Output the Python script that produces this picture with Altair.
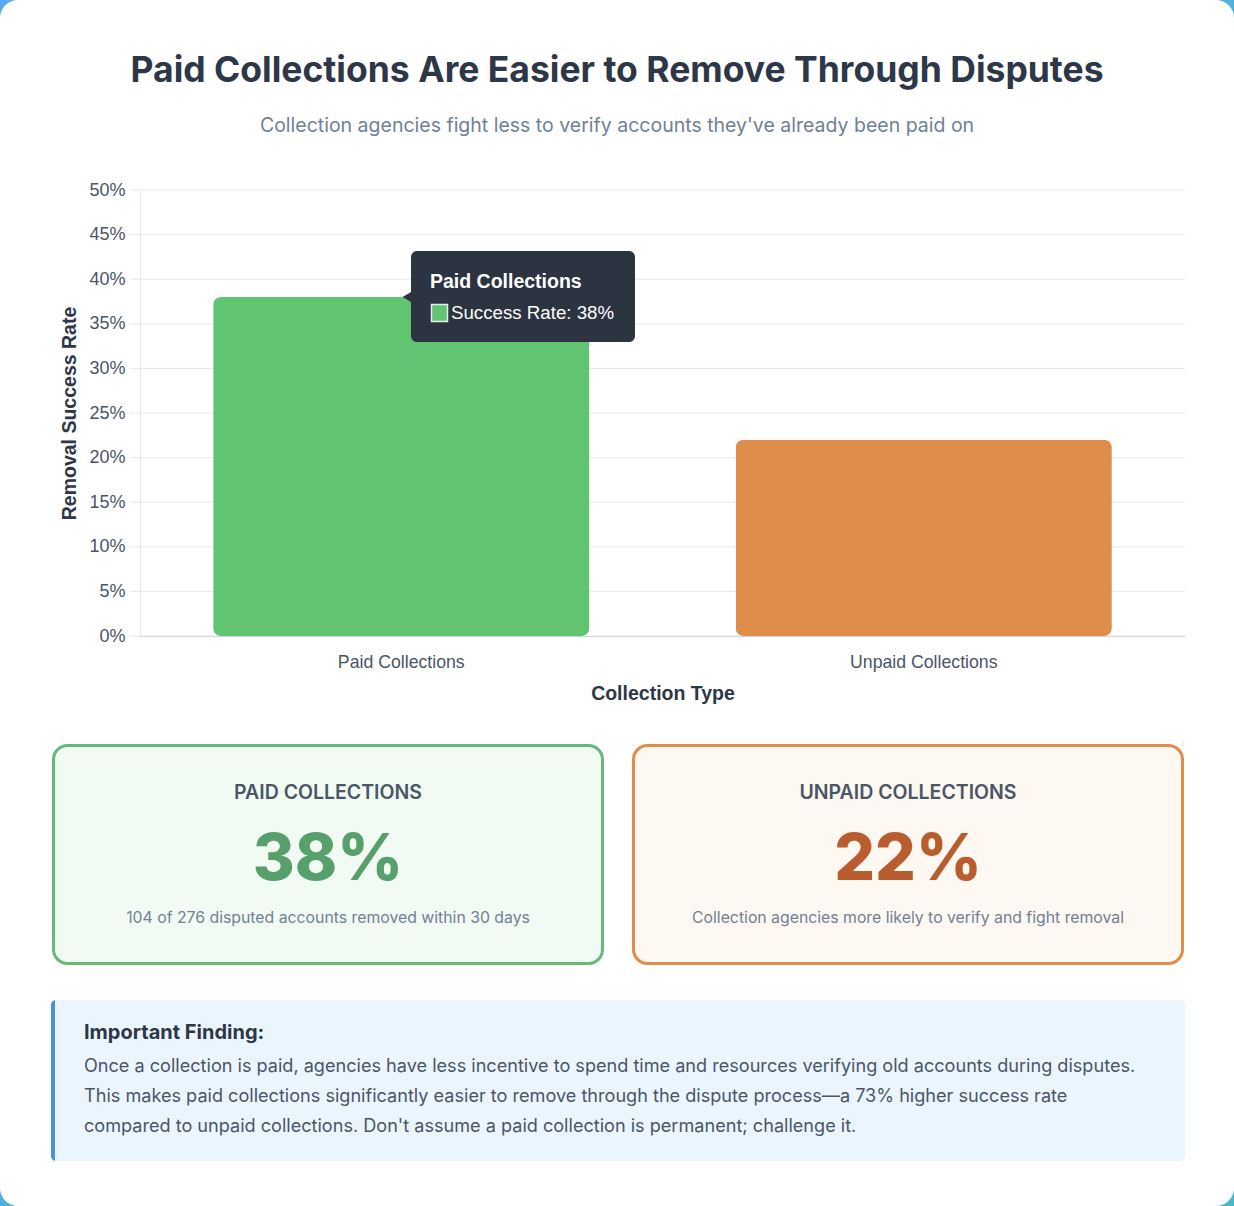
import altair as alt
import pandas as pd

# ---- data -----------------------------------------------------------------
categories = ["Paid Collections", "Unpaid Collections"]
success_rates = [0.38, 0.22]
bar_colors = ["#60c471", "#de8e4a"]
y_ticks = [0.0, 0.05, 0.10, 0.15, 0.20, 0.25, 0.30, 0.35, 0.40, 0.45, 0.50]

title_text = "Paid Collections Are Easier to Remove Through Disputes"
subtitle_text = "Collection agencies fight less to verify accounts they've already been paid on"

card_titles = ["PAID COLLECTIONS", "UNPAID COLLECTIONS"]
card_notes = [
    "104 of 276 disputed accounts removed within 30 days",
    "Collection agencies more likely to verify and fight removal",
]
card_value_colors = ["#579f6b", "#b95d2f"]
card_border_colors = ["#68b77b", "#e08c4a"]
card_fill_colors = ["#f1fbf3", "#fdf8f1"]

finding_heading = "Important Finding:"
finding_lines = [
    "Once a collection is paid, agencies have less incentive to spend time and resources verifying old accounts during disputes.",
    "This makes paid collections significantly easier to remove through the dispute process\u2014a 73% higher success rate",
    "compared to unpaid collections. Don't assume a paid collection is permanent; challenge it.",
]

# ---- layout ---------------------------------------------------------------
W, H = 1234, 1206
PLOT_L, PLOT_R, PLOT_T, PLOT_B = 140, 1185, 190, 636
UI_FONT = "Inter"
CHART_FONT = "Liberation Sans"

bars = pd.DataFrame({"category": categories, "rate": success_rates})
ticks = pd.DataFrame({"rate": y_ticks})
one = pd.DataFrame({"k": [0]})

x_scale = alt.Scale(domain=categories, range=[PLOT_L, PLOT_R],
                    paddingInner=0.28, paddingOuter=0.14)
y_scale = alt.Scale(domain=[0, 0.5], range=[PLOT_B, PLOT_T])

y_axis = alt.Axis(orient="left", offset=-PLOT_L, values=y_ticks,
                  format=".0%", ticks=False, grid=False,
                  domainColor="#e2e6ee", labelFont=CHART_FONT,
                  labelFontSize=18, labelColor="#4a5568",
                  labelPadding=15, title="Removal Success Rate",
                  titleFont=CHART_FONT, titleFontSize=19.5,
                  titleFontWeight="bold", titleColor="#2d3748",
                  titlePadding=9, zindex=1)
x_axis = alt.Axis(orient="bottom", offset=PLOT_B - H, ticks=False,
                  domainColor="#cfd6e2", labelFont=CHART_FONT,
                  labelFontSize=17.7, labelColor="#4a5568",
                  labelPadding=17, labelAngle=0,
                  title="Collection Type", titleFont=CHART_FONT,
                  titleFontSize=19.5, titleFontWeight="bold",
                  titleColor="#2d3748", titlePadding=14, zindex=1)


def text_at(text, x, y, **kw):
    return alt.Chart(one).mark_text(text=text, baseline="alphabetic", **kw).encode(
        x=alt.value(x), y=alt.value(y))


def box(x, x2, y, y2, **kw):
    return alt.Chart(one).mark_rect(**kw).encode(
        x=alt.value(x), x2=alt.value(x2), y=alt.value(y), y2=alt.value(y2))


layers = []

# page background and white container
layers.append(box(0, W, 0, H, fill=alt.LinearGradient(
    gradient="linear", x1=0, y1=0, x2=1, y2=1,
    stops=[alt.GradientStop(color="#5aa8f0", offset=0),
           alt.GradientStop(color="#45b8c6", offset=1)])))
layers.append(box(0, W, 0, H, fill="white", cornerRadius=18))

# headline
layers.append(text_at(title_text, W / 2, 82, font=UI_FONT, fontSize=35.5,
                      fontWeight="bold", color="#2d3748", align="center"))
layers.append(text_at(subtitle_text, W / 2, 132, font=UI_FONT, fontSize=19.5,
                      color="#718096", align="center"))

# gridlines
grid = alt.Chart(ticks).mark_rule(color="#e5e8ef", strokeWidth=1).encode(
    y=alt.Y("rate:Q", scale=y_scale, axis=y_axis),
    x=alt.value(PLOT_L - 10), x2=alt.value(PLOT_R),
)
layers.append(grid)

# bars
bar_layer = alt.Chart(bars).mark_bar(cornerRadius=8).encode(
    x=alt.X("category:N", scale=x_scale, sort=categories, axis=x_axis),
    y=alt.Y("rate:Q", scale=y_scale, axis=y_axis),
    color=alt.Color("category:N", scale=alt.Scale(domain=categories, range=bar_colors),
                    legend=None),
)
layers.append(bar_layer)

# hover card on the first bar, anchored at its value
tip = bars.iloc[[0]].copy()
tip["label"] = [f"Success Rate: {round(r * 100)}%" for r in tip["rate"]]
tip_base = alt.Chart(tip)
tip_dark = "#2c3341"
layers.append(tip_base.mark_rect(cornerRadius=6, fill=tip_dark, yOffset=-46, y2Offset=45).encode(
    y=alt.Y("rate:Q", scale=y_scale, axis=y_axis), y2="rate:Q",
    x=alt.value(411), x2=alt.value(635)))
layers.append(tip_base.mark_point(shape="triangle-left", filled=True, fill=tip_dark,
                                  opacity=1, size=110).encode(
    y=alt.Y("rate:Q", scale=y_scale, axis=y_axis), x=alt.value(407)))
layers.append(tip_base.mark_text(font=CHART_FONT, fontSize=19.5, fontWeight="bold",
                                 color="white", align="left", dy=-15).encode(
    y=alt.Y("rate:Q", scale=y_scale, axis=y_axis), x=alt.value(430), text="category:N"))
layers.append(tip_base.mark_rect(fill=bar_colors[0], stroke="#e8ecf2", strokeWidth=1.5,
                                 yOffset=7.5, y2Offset=24.5).encode(
    y=alt.Y("rate:Q", scale=y_scale, axis=y_axis), y2="rate:Q",
    x=alt.value(431.5), x2=alt.value(447.5)))
layers.append(tip_base.mark_text(font=CHART_FONT, fontSize=18.7, color="white",
                                 align="left", dy=16).encode(
    y=alt.Y("rate:Q", scale=y_scale, axis=y_axis), x=alt.value(451), text="label:N"))

# summary cards
card_lefts = [53.5, 633.5]
card_width = 549
for i in range(2):
    left = card_lefts[i]
    cx = left + card_width / 2
    layers.append(box(left, left + card_width, 745.5, 963.5,
                      fill=card_fill_colors[i], stroke=card_border_colors[i],
                      strokeWidth=3, cornerRadius=14))
    layers.append(text_at(card_titles[i], cx, 799, font=UI_FONT, fontSize=19.5,
                          fontWeight=600, color="#4a5568", align="center"))
    layers.append(text_at(f"{round(success_rates[i] * 100)}%", cx, 880, font=UI_FONT,
                          fontSize=64, fontWeight=800, color=card_value_colors[i],
                          align="center"))
    layers.append(text_at(card_notes[i], cx, 923, font=UI_FONT, fontSize=15.8,
                          color="#718096", align="center"))

# finding callout
layers.append(box(51, 65, 1000, 1161, fill="#4a90d9", cornerRadius=5))
layers.append(box(55, 1185, 1000, 1161, fill="#ebf5fd",
                  cornerRadiusTopRight=5, cornerRadiusBottomRight=5))
layers.append(text_at(finding_heading, 84, 1039, font=UI_FONT, fontSize=20,
                      fontWeight="bold", color="#2d3748", align="left"))
for j, line in enumerate(finding_lines):
    layers.append(text_at(line, 84, 1072 + 30 * j, font=UI_FONT, fontSize=18.1,
                          color="#4a5568", align="left"))

chart = alt.layer(*layers).properties(
    width=W, height=H,
    autosize=alt.AutoSizeParams(type="none"),
    padding=0,
).configure_view(stroke=None).configure(background="white")

chart.save("out.html", embed_options={"renderer": "svg", "actions": False})
